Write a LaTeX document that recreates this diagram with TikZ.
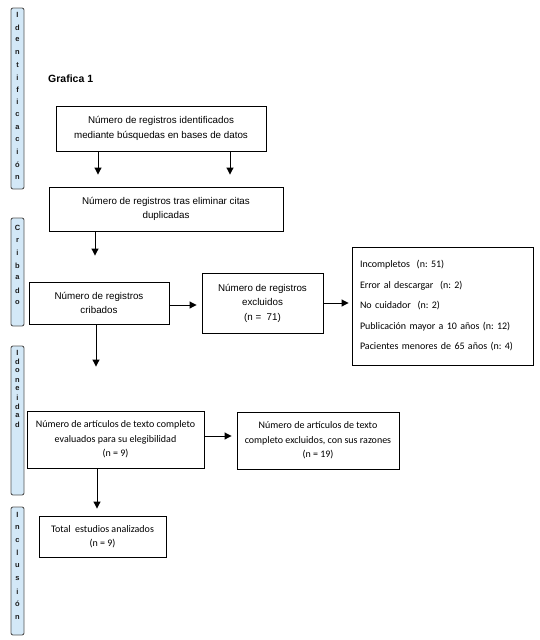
\documentclass[tikz,border=0pt]{standalone}
\usepackage{fontspec}
\setmainfont{Liberation Sans}
\newfontfamily\calfont{Carlito}
\usetikzlibrary{arrows.meta}
\definecolor{barfill}{HTML}{D3E8F7}
\definecolor{barline}{HTML}{555555}
\definecolor{lettercol}{HTML}{1A1A1A}
\frenchspacing
\begin{document}
\begin{tikzpicture}[x=1pt,y=-1pt,
  box/.style={draw=black, line width=0.9pt, inner sep=0pt, align=center,
    font=\frenchspacing\fontsize{9.8}{14.5}\selectfont},
  calbox/.style={box, font=\frenchspacing\calfont\fontsize{10}{14.5}\selectfont},
  sidebar/.style={draw=barline, fill=barfill, line width=0.9pt, rounded corners=2pt,
    minimum width=13pt, inner sep=0pt},
  letter/.style={font=\fontsize{7.5}{7.5}\bfseries\selectfont, text=lettercol, inner sep=0pt},
  arr/.style={line width=1pt, -{Triangle[length=7pt,width=7pt]}}
]
\useasboundingbox (0,0) rectangle (539,640);

% side bars
\node[sidebar, minimum height=181pt] (barA) at (17.5,98.5) {};
\node[sidebar, minimum height=108pt] (barB) at (17.5,272) {};
\node[sidebar, minimum height=149pt] (barC) at (17.5,420.5) {};
\node[sidebar, minimum height=128pt] (barD) at (17.5,571) {};
\foreach \l [count=\i from 0] in {I,d,e,n,t,i,f,i,c,a,c,i,ó,n}
  \node[letter] (la\i) at (17.5,{15+12.46*\i}) {\l};
\foreach \l [count=\i from 0] in {C,r,i,b,a,d,o}
  \node[letter] (lb\i) at (17.5,{228+12.5*\i}) {\l};
\foreach \l [count=\i from 0] in {I,d,o,n,e,i,d,a,d}
  \node[letter] (lc\i) at (17.5,{353+9*\i}) {\l};
\foreach \l [count=\i from 0] in {I,n,c,l,u,s,i,ó,n}
  \node[letter] (ld\i) at (17.5,{515+12.75*\i}) {\l};

% title
\node[anchor=base west, inner sep=0pt, font=\fontsize{10.5}{12}\bfseries\selectfont] (title) at (48,82) {Grafica 1};

% boxes
\node[box, minimum width=210pt, minimum height=45pt] (b1) at (161,128.5)
  {Número de registros identificados\\mediante búsquedas en bases de datos};
\node[box, minimum width=234pt, minimum height=44pt] (b2) at (166,209)
  {Número de registros tras eliminar citas\\duplicadas};
\node[box, minimum width=140pt, minimum height=42pt] (b3) at (99,303)
  {Número de registros\\cribados};
\node[box, minimum width=121pt, minimum height=60pt] (b4) at (262.5,303)
  {Número de registros\\excluidos\\(n =\ \ 71)};
\node[draw=black, line width=0.9pt, inner xsep=8pt, inner ysep=0pt, minimum width=181pt, minimum height=118pt,
  text width=165pt, align=left, font=\frenchspacing\calfont\fontsize{10}{20.5}\selectfont] (b5) at (442.5,306)
  {Incompletos\ \ (n: 51)\\Error al descargar\ \ (n: 2)\\No cuidador\ \ (n: 2)\\Publicación mayor a 10 años (n: 12)\\Pacientes menores de 65 años (n: 4)};
\node[calbox, minimum width=177pt, minimum height=57pt] (b6) at (115.5,439.5)
  {Número de artículos de texto completo\\evaluados para su elegibilidad\\(n = 9)};
\node[calbox, minimum width=162pt, minimum height=57pt] (b7) at (318,440.5)
  {Número de artículos de texto\\completo excluidos, con sus razones\\(n = 19)};
\node[calbox, minimum width=127pt, minimum height=41pt] (b8) at (102.5,536.5)
  {Total\ \ estudios analizados\\(n = 9)};

% arrows
\draw[arr, shorten >=12pt] (b1.south -| 98,0) -- (b2.north -| 98,0);
\draw[arr, shorten >=12pt] (b1.south -| 230,0) -- (b2.north -| 230,0);
\draw[arr, shorten >=26pt] (b2.south -| 95,0) -- (b3.north -| 95,0);
\draw[arr, shorten >=5pt] (b3.east |- 0,305) -- (b4.west |- 0,305);
\draw[arr, shorten >=3pt] (b4.east |- 0,303) -- (b5.west |- 0,303);
\draw[arr, shorten >=44pt] (b3.south -| 96,0) -- (b6.north -| 96,0);
\draw[arr, shorten >=5pt] (b6.east |- 0,436) -- (b7.west |- 0,436);
\draw[arr, shorten >=7pt] (b6.south -| 97,0) -- (b8.north -| 97,0);
\end{tikzpicture}
\end{document}
